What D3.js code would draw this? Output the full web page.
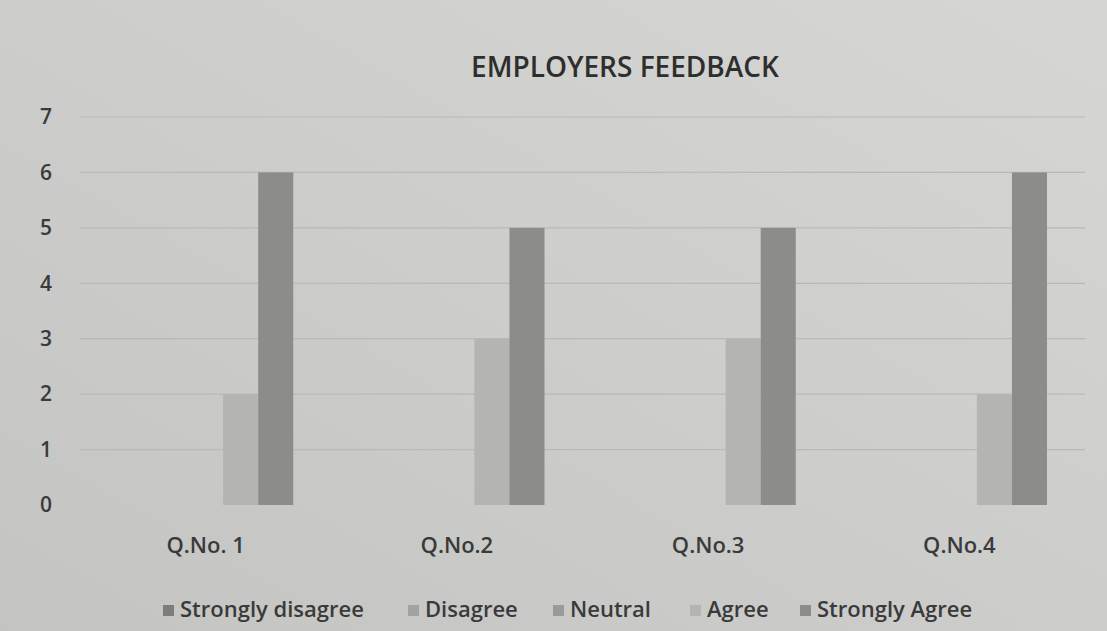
<!DOCTYPE html>
<html>
<head>
<meta charset="utf-8">
<script src="https://cdn.jsdelivr.net/npm/d3@7"></script>
<style>
  body { margin: 0; background: #cbcbc8; }
  svg { display: block; }
  svg text { font-family: "Open Sans", "Noto Sans", sans-serif; }
</style>
</head>
<body>
<div id="chart"></div>
<script>
var svgWidth = 1107;
var svgHeight = 631;

var margin = { top: 117, right: 22, bottom: 126, left: 80 };
var width = svgWidth - margin.left - margin.right;
var height = svgHeight - margin.top - margin.bottom;

// data
var questions = ["Q.No. 1", "Q.No.2", "Q.No.3", "Q.No.4"];
var seriesNames = ["Strongly disagree", "Disagree", "Neutral", "Agree", "Strongly Agree"];
var stronglyDisagree = [0, 0, 0, 0];
var disagree = [0, 0, 0, 0];
var neutral = [0, 0, 0, 0];
var agree = [2, 3, 3, 2];
var stronglyAgree = [6, 5, 5, 6];
var yTicks = [0, 1, 2, 3, 4, 5, 6, 7];

var seriesValues = [stronglyDisagree, disagree, neutral, agree, stronglyAgree];
var colors = ["#7d7d7b", "#a3a3a1", "#9a9a98", "#b4b4b1", "#8c8c8a"];

var svg = d3.select("#chart")
    .append("svg")
    .attr("width", svgWidth)
    .attr("height", svgHeight);

// soft photographic light
var defs = svg.append("defs");
var grad = defs.append("linearGradient").attr("id", "bg")
    .attr("x1", "0").attr("y1", "1").attr("x2", "1").attr("y2", "0");
grad.append("stop").attr("offset", "0").attr("stop-color", "#c4c5c2");
grad.append("stop").attr("offset", "1").attr("stop-color", "#d6d6d4");
svg.append("rect").attr("width", svgWidth).attr("height", svgHeight).attr("fill", "url(#bg)");

var chartGroup = svg.append("g")
    .attr("transform", `translate(${margin.left},${margin.top})`);

var x0 = d3.scaleBand().domain(questions).range([0, width]);
var x1 = d3.scaleBand().domain(seriesNames).range([38, x0.bandwidth() - 38]);
var y = d3.scaleLinear().domain([0, 7]).range([height, 0]);

// gridlines
chartGroup.append("g")
    .selectAll("line")
    .data(yTicks.slice(1))
    .enter()
    .append("line")
    .attr("x1", 0)
    .attr("x2", width)
    .attr("y1", d => y(d))
    .attr("y2", d => y(d))
    .attr("stroke", "#b9b9b6")
    .attr("stroke-width", 1.2);

// y axis labels
var leftAxis = d3.axisLeft(y).tickValues(yTicks).tickFormat(d3.format("d")).tickSize(0).tickPadding(28);
var yAxis = chartGroup.append("g").call(leftAxis);
yAxis.select(".domain").remove();
yAxis.selectAll("text")
    .attr("font-size", 21)
    .attr("font-weight", 600)
    .attr("fill", "#3a3a3a");

// bars
var groups = chartGroup.selectAll(".grp")
    .data(questions)
    .enter()
    .append("g")
    .attr("transform", d => `translate(${x0(d)},0)`);

groups.selectAll("rect")
    .data((q, i) => seriesNames.map((s, j) => ({ s: s, v: seriesValues[j][i], c: colors[j] })))
    .enter()
    .append("rect")
    .attr("x", d => x1(d.s))
    .attr("width", x1.bandwidth())
    .attr("y", d => y(d.v))
    .attr("height", d => height - y(d.v))
    .attr("fill", d => d.c);

// x axis labels
var bottomAxis = d3.axisBottom(x0).tickSize(0).tickPadding(32);
var xAxis = chartGroup.append("g")
    .attr("transform", `translate(0,${height})`)
    .call(bottomAxis);
xAxis.select(".domain").remove();
xAxis.selectAll("text")
    .attr("font-size", 22)
    .attr("font-weight", 600)
    .attr("fill", "#3a3a3a");

// title
svg.append("text")
    .attr("x", 625)
    .attr("y", 77)
    .attr("text-anchor", "middle")
    .attr("font-size", 28)
    .attr("font-weight", 600)
    .attr("fill", "#2e2e2e")
    .text("EMPLOYERS FEEDBACK");

// legend
var legendX = [163, 408, 553, 690, 800];
var legend = svg.append("g").attr("transform", "translate(0,601)");
var items = legend.selectAll("g")
    .data(seriesNames)
    .enter()
    .append("g")
    .attr("transform", (d, i) => `translate(${legendX[i]},0)`);
items.append("rect")
    .attr("x", 0).attr("y", 4)
    .attr("width", 11).attr("height", 11)
    .attr("fill", (d, i) => colors[i]);
items.append("text")
    .attr("x", 17)
    .attr("y", 16)
    .attr("font-size", 22)
    .attr("font-weight", 600)
    .attr("fill", "#3a3a3a")
    .text(d => d);
</script>
</body>
</html>
